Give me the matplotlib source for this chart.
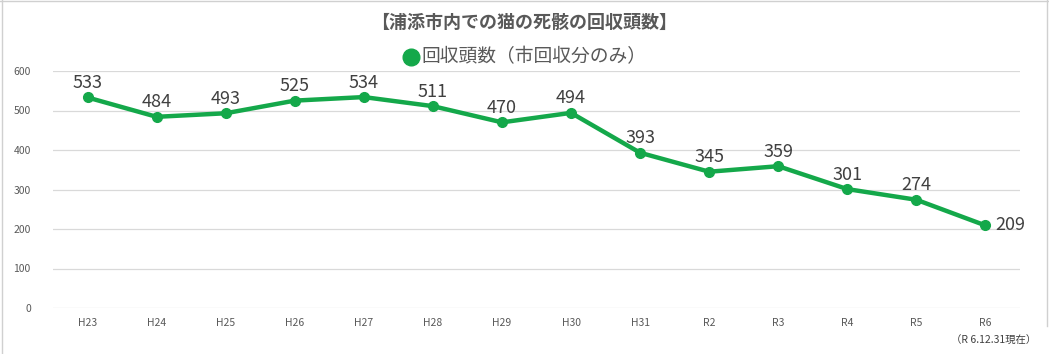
import matplotlib.pyplot as plt
from matplotlib.lines import Line2D

plt.rcParams['font.family'] = ['Noto Sans CJK JP', 'DejaVu Sans']

years = ['H23', 'H24', 'H25', 'H26', 'H27', 'H28', 'H29', 'H30', 'H31',
         'R2', 'R3', 'R4', 'R5', 'R6']
counts = [533, 484, 493, 525, 534, 511, 470, 494, 393, 345, 359, 301, 274, 209]
yticks = [0, 100, 200, 300, 400, 500, 600]

green = '#14A84A'
grey = '#595959'

fig = plt.figure(figsize=(10.49, 3.54), dpi=100)
ax = fig.add_axes([53 / 1049, 1 - 308 / 354, (1020 - 53) / 1049, (308 - 71) / 354])

x = list(range(len(years)))
ax.plot(x, counts, color=green, lw=3.2, marker='o', ms=7, zorder=3)

for i, v in enumerate(counts):
    if i == len(counts) - 1:
        ax.annotate(str(v), (i, v), xytext=(7, 0), textcoords='offset points',
                    ha='left', va='center', fontsize=13, color='#404040')
    else:
        ax.annotate(str(v), (i, v), xytext=(0, 4), textcoords='offset points',
                    ha='center', va='bottom', fontsize=13, color='#404040')

ax.set_xlim(-0.5, len(years) - 0.5)
ax.set_ylim(0, 600)
ax.set_yticks(yticks)
ax.set_xticks(x)
ax.set_xticklabels(years)
ax.tick_params(length=0, labelsize=7.5, labelcolor=grey, pad=7)
ax.tick_params(axis='y', pad=16)
ax.grid(axis='y', color='#d9d9d9', lw=0.9)
ax.set_axisbelow(True)
for s in ax.spines.values():
    s.set_visible(False)

fig.text(0.5, 1 - 22 / 354, '【浦添市内での猫の死骸の回収頭数】', ha='center', va='center',
         fontsize=13, fontweight='bold', color=grey)
fig.text(421 / 1049, 1 - 57 / 354, '回収頭数（市回収分のみ）', ha='left', va='center',
         fontsize=13.5, color=grey)
fig.add_artist(Line2D([411 / 1049], [1 - 57 / 354], marker='o', ms=12, color=green,
                      transform=fig.transFigure))
fig.text(1036 / 1049, 1 - 341 / 354, '（R 6.12.31現在）', ha='right', va='center',
         fontsize=7.5, color='#404040')

# outer frame
fig.add_artist(Line2D([2 / 1049, 2 / 1049], [0, 1], color='#d0d0d0', lw=1, transform=fig.transFigure))
fig.add_artist(Line2D([0, 1], [1 - 1 / 354, 1 - 1 / 354], color='#d0d0d0', lw=1, transform=fig.transFigure))
fig.add_artist(Line2D([1047 / 1049, 1047 / 1049], [1 - 326 / 354, 1], color='#d0d0d0', lw=1,
                      transform=fig.transFigure))

fig.savefig('out.png', dpi=100)
